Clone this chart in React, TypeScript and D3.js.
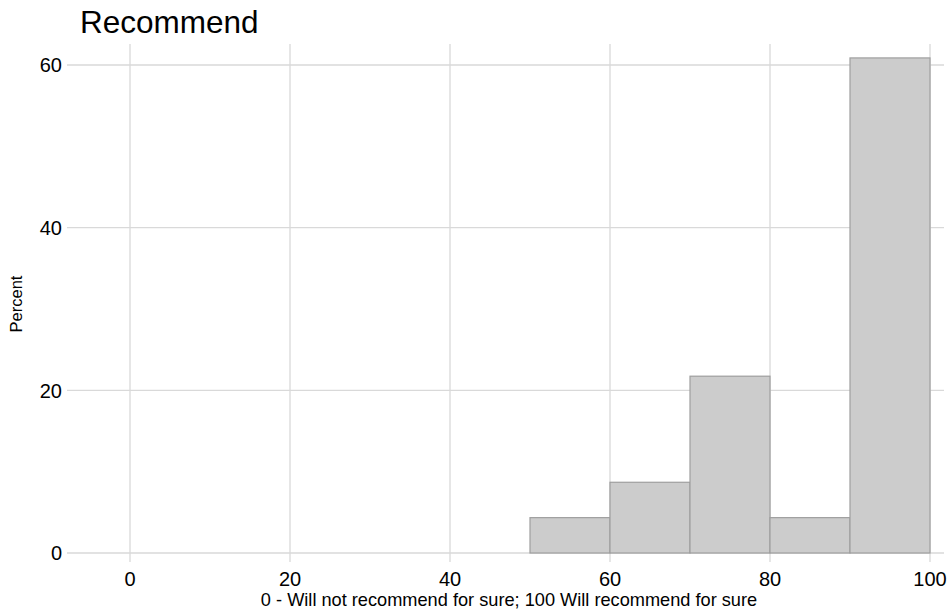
import React from "react";
import * as d3 from "d3";

const binStarts = [50, 60, 70, 80, 90];
const binWidth = 10;
const percents = [4.348, 8.696, 21.739, 4.348, 60.870];
const xTicks = [0, 20, 40, 60, 80, 100];
const yTicks = [0, 20, 40, 60];

const W = 951;
const H = 614;
const panel = { left: 67, right: 944, top: 44, bottom: 562 };

export default function App() {
  const x = d3.scaleLinear().domain([0, 100]).range([130, 930]);
  const y = d3.scaleLinear().domain([0, 60]).range([553, 65]);
  const font = "'Liberation Sans', Arial, sans-serif";
  return (
    <svg width={W} height={H} style={{ position: "absolute", left: 0, top: 0, background: "#fff" }}>
      <text x={80} y={33} fontFamily={font} fontSize={31.5} fill="#000">Recommend</text>
      {yTicks.map((t) => (
        <g key={"y" + t}>
          <line x1={panel.left} x2={panel.right} y1={y(t)} y2={y(t)} stroke="#d9d9d9" strokeWidth={1.3} />
          <text x={62} y={y(t)} dy="0.36em" textAnchor="end" fontFamily={font} fontSize={20} fill="#000">{t}</text>
        </g>
      ))}
      {xTicks.map((t) => (
        <g key={"x" + t}>
          <line x1={x(t)} x2={x(t)} y1={panel.top} y2={panel.bottom} stroke="#d9d9d9" strokeWidth={1.3} />
          <text x={x(t)} y={586} textAnchor="middle" fontFamily={font} fontSize={20} fill="#000">{t}</text>
        </g>
      ))}
      {binStarts.map((b, i) => (
        <rect key={"b" + b} x={x(b)} y={y(percents[i])} width={x(b + binWidth) - x(b)} height={y(0) - y(percents[i])}
          fill="#cccccc" stroke="#9e9e9e" strokeWidth={1.2} />
      ))}
      <text x={509} y={606} textAnchor="middle" fontFamily={font} fontSize={18.2} fill="#000">0 - Will not recommend for sure; 100 Will recommend for sure</text>
      <text transform={`translate(22,304) rotate(-90)`} textAnchor="middle" fontFamily={font} fontSize={16.5} fill="#000">Percent</text>
    </svg>
  );
}
